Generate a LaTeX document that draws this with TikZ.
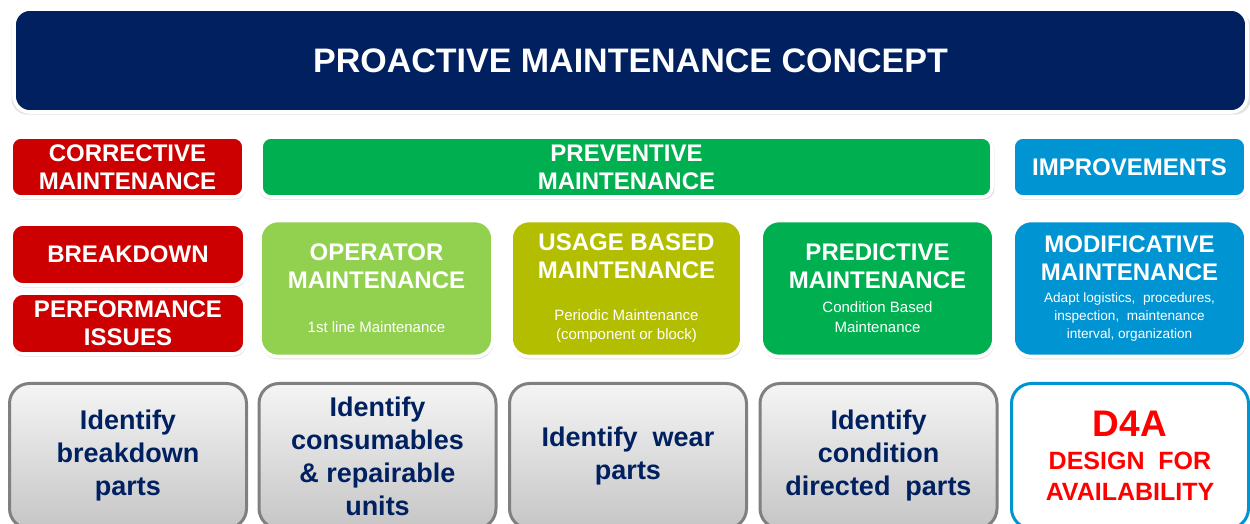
\documentclass[tikz,border=0pt]{standalone}
\usepackage{fontspec}
\setmainfont{Liberation Sans}
\usepackage{tikz}
\usetikzlibrary{shadows}
\definecolor{DarkNavy}{RGB}{0,32,96}
\definecolor{CorrRed}{RGB}{204,0,0}
\definecolor{PrevGreen}{RGB}{0,176,80}
\definecolor{LightGreen}{RGB}{146,208,80}
\definecolor{Olive}{RGB}{180,190,0}
\definecolor{ImprBlue}{RGB}{0,148,210}
\definecolor{FrameGray}{RGB}{128,128,128}
\definecolor{AlertRed}{RGB}{255,0,0}

\newcommand{\hdr}{\fontsize{12}{14}\selectfont\bfseries}
\newcommand{\subtxt}{\fontsize{7.5}{9.5}\selectfont\mdseries}
\newcommand{\tinytxt}{\fontsize{6.8}{8}\selectfont\mdseries}

\begin{document}
\begin{tikzpicture}[x=0.5pt,y=-0.5pt,
	tile/.style={draw=white, line width=1.8pt, text=white, align=center,
		inner sep=0pt, font=\hdr,
		drop shadow={opacity=0.22, shadow xshift=0.3pt, shadow yshift=-1.2pt, shadow scale=1.005}},
	part/.style={rounded corners=10pt, draw=FrameGray, line width=1.5pt,
		top color=gray!8, bottom color=gray!45, text=DarkNavy, align=center,
		inner sep=0pt, minimum width=118.5pt, minimum height=72.5pt,
		font=\fontsize{13.5}{16.5}\selectfont\bfseries}]
	\useasboundingbox (0,0) rectangle (1250,524);
	\clip (0,0) rectangle (1250,524);

	% title bar
	\node[tile, rounded corners=8pt, fill=DarkNavy, minimum width=616.5pt, minimum height=51.5pt,
		font=\fontsize{17}{20}\selectfont\bfseries] (title) at (630.5,60.5)
		{PROACTIVE MAINTENANCE CONCEPT};

	% categories
	\node[tile, rounded corners=5pt, fill=CorrRed, minimum width=116.5pt, minimum height=30pt]
		(corr) at (127.5,167) {CORRECTIVE\\MAINTENANCE};
	\node[tile, rounded corners=5pt, fill=PrevGreen, minimum width=365.5pt, minimum height=30pt]
		(prev) at (626.5,167) {PREVENTIVE\\MAINTENANCE};
	\node[tile, rounded corners=5pt, fill=ImprBlue, minimum width=116.5pt, minimum height=30pt]
		(impr) at (1129.5,167) {IMPROVEMENTS};

	% maintenance types
	\node[tile, rounded corners=6pt, fill=CorrRed, minimum width=117pt, minimum height=30.5pt]
		(brk) at (128,254.5) {BREAKDOWN};
	\node[tile, rounded corners=6pt, fill=CorrRed, minimum width=117pt, minimum height=30.5pt]
		(perf) at (128,323.5) {PERFORMANCE\\ISSUES};
	\node[tile, rounded corners=9pt, fill=LightGreen, minimum width=116.5pt, minimum height=68pt]
		(oper) at (376.5,288.5) {OPERATOR\\MAINTENANCE\\[8pt]{\subtxt 1st line Maintenance}};
	\node[tile, rounded corners=9pt, fill=Olive, minimum width=115.5pt, minimum height=68pt]
		(usage) at (626.5,288.5) {USAGE BASED\\MAINTENANCE\\[7pt]{\subtxt Periodic Maintenance}\\[-4.5pt]{\subtxt (component or block)}};
	\node[tile, rounded corners=9pt, fill=PrevGreen, minimum width=116.5pt, minimum height=68pt]
		(pred) at (877.5,288.5) {PREDICTIVE\\MAINTENANCE\\[-2pt]{\subtxt Condition Based}\\[-4pt]{\subtxt Maintenance}};
	\node[tile, rounded corners=9pt, fill=ImprBlue, minimum width=116.5pt, minimum height=68pt]
		(modif) at (1129.5,288.5) {MODIFICATIVE\\MAINTENANCE\\[-3pt]{\tinytxt Adapt logistics,\ \ procedures,}\\[-5pt]{\tinytxt inspection,\ \ maintenance}\\[-5pt]{\tinytxt interval,\ organization}};

	% parts to identify
	\node[part] (pbrk) at (128,456) {Identify\\breakdown\\parts};
	\node[part] (pcons) at (377.5,456) {Identify\\consumables\\\& repairable\\units};
	\node[part] (pwear) at (628,456) {Identify\ \ wear\\parts};
	\node[part] (pcond) at (878.5,456) {Identify\\condition\\directed\ \ parts};
	\node[part, draw=ImprBlue, top color=white, bottom color=white, text=AlertRed,
		font=\fontsize{12.5}{15.5}\selectfont\bfseries] (d4a) at (1130,456)
		{{\fontsize{18.5}{20}\selectfont D4A}\\[1pt]DESIGN\ \ FOR\\AVAILABILITY};
\end{tikzpicture}
\end{document}
